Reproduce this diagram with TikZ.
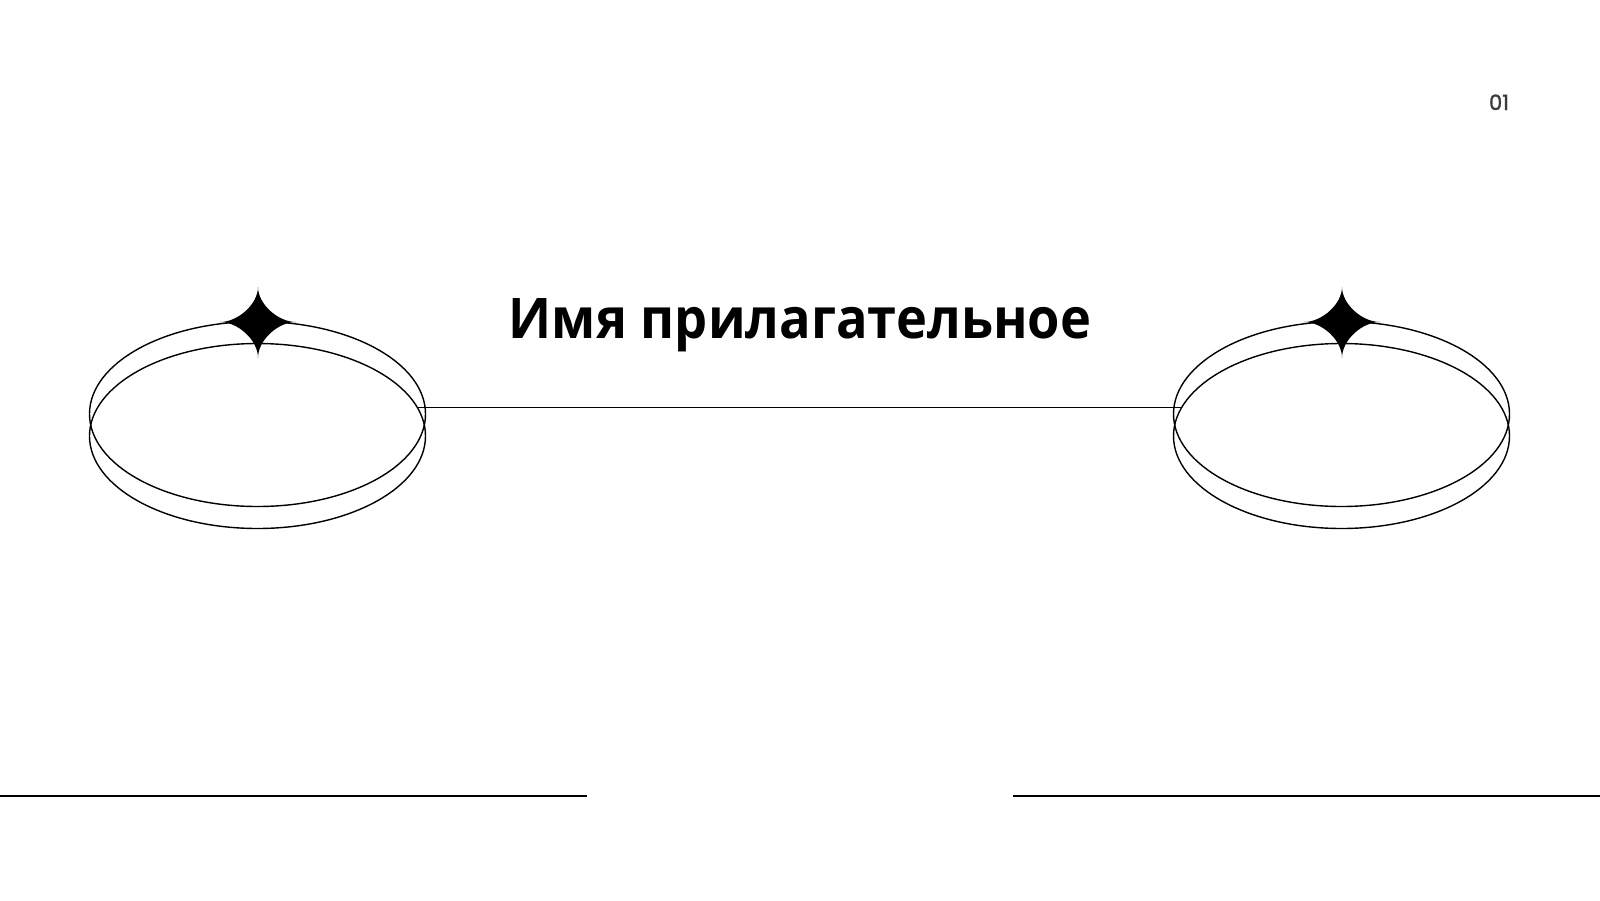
\documentclass[tikz,border=0pt]{standalone}
\usepackage{fontspec}
\usepackage{graphicx}
\newfontfamily\titlefont{Open Sans}
\newfontfamily\numfont{Poppins}[FakeBold=1.2]
\definecolor{numgray}{HTML}{3A3A3A}
\tikzset{
  ring/.style={draw=black, line width=1.4pt},
  sparkle/.style={fill=black, draw=none},
  rule/.style={draw=black, line width=1.8pt},
  link/.style={draw=black, line width=1.5pt}
}
\newcommand{\sparkleat}[2]{%
  \fill[sparkle] (#1,#2-35) .. controls (#1,#2-18) and (#1+20,#2) .. (#1+38,#2)
     .. controls (#1+20,#2) and (#1,#2+18) .. (#1,#2+36)
     .. controls (#1,#2+18) and (#1-20,#2) .. (#1-38,#2)
     .. controls (#1-20,#2) and (#1,#2-18) .. cycle;}
\begin{document}
\begin{tikzpicture}[x=1pt,y=-1pt]
  \useasboundingbox[fill=white] (0,0) rectangle (1600,900);
  % left disc
  \draw[ring] (257.5,414) ellipse [x radius=168, y radius=92.5];
  \draw[ring] (257.5,436) ellipse [x radius=168, y radius=92.5];
  \sparkleat{258}{322}
  % right disc
  \draw[ring] (1341.5,414) ellipse [x radius=168, y radius=92.5];
  \draw[ring] (1341.5,436) ellipse [x radius=168, y radius=92.5];
  \sparkleat{1342}{322}
  % connector
  \coordinate (cL) at (417,407.3);
  \coordinate (cR) at (1182,407.3);
  \draw[link] (cL) -- (cR);
  % title
  \node[anchor=base, inner sep=0pt, font=\titlefont\bfseries\fontsize{56}{66}\selectfont] (title) at (800,338.3) {\scalebox{0.935}[1]{Имя прилагательное}};
  % page number
  \node[anchor=base, inner sep=0pt, text=numgray, font=\numfont\fontsize{21}{25}\selectfont] (pnum) at (1499,110) {01};
  % bottom rules
  \coordinate (b1) at (0,796);
  \coordinate (b2) at (587,796);
  \coordinate (b3) at (1013,796);
  \coordinate (b4) at (1600,796);
  \draw[rule] (b1) -- (b2);
  \draw[rule] (b3) -- (b4);
\end{tikzpicture}
\end{document}
